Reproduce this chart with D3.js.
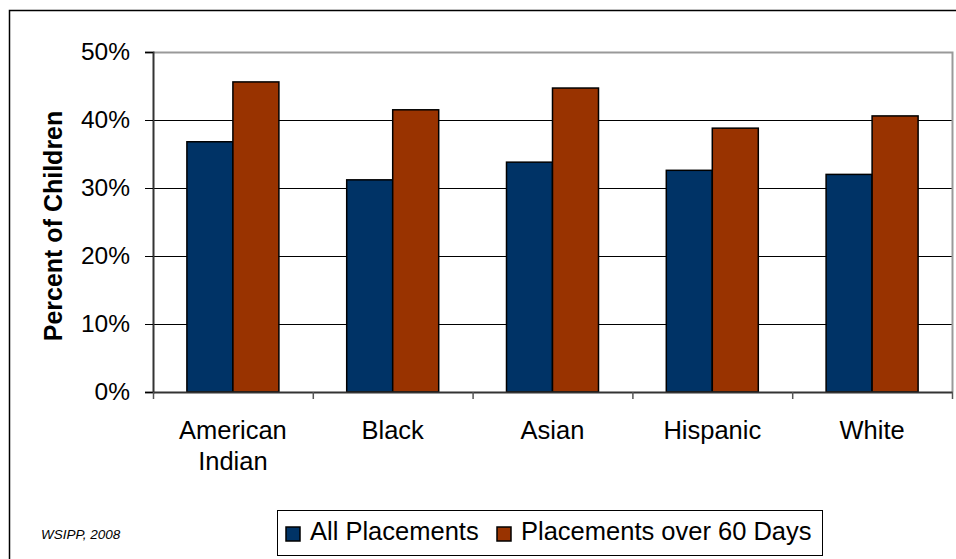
<!DOCTYPE html>
<html>
<head>
<meta charset="utf-8">
<script src="https://cdn.jsdelivr.net/npm/d3@7"></script>
<style>
  html, body { margin: 0; padding: 0; background: #fff; }
  svg { display: block; font-family: "Liberation Sans", Arial, sans-serif; }
</style>
</head>
<body>
<svg id="chart" width="956" height="559"></svg>
<script>
// Share of children, by race/ethnicity
const categories = [["American", "Indian"], ["Black"], ["Asian"], ["Hispanic"], ["White"]];
const seriesNames = ["All Placements", "Placements over 60 Days"];
const allPlacements = [0.368, 0.312, 0.338, 0.326, 0.320];
const over60Days = [0.456, 0.415, 0.447, 0.388, 0.406];
const yTicks = [0, 0.1, 0.2, 0.3, 0.4, 0.5];
const colors = ["#003366", "#993300"];

const svg = d3.select("#chart");
const plot = { left: 153, top: 52, right: 952, bottom: 392 };

// outer frame (top and left edges visible)
svg.append("path")
  .attr("d", `M9.5,559 V10.5 H956`)
  .attr("fill", "none").attr("stroke", "#000").attr("stroke-width", 1.5);

const keys = categories.map((c, i) => i);
const x = d3.scaleBand().domain(keys).range([plot.left, plot.right]).paddingInner(0).paddingOuter(0);
const groupW = 92;
const xs = d3.scaleBand().domain([0, 1]).range([0, groupW]);
const y = d3.scaleLinear().domain([0, 0.5]).range([plot.bottom, plot.top]);

// gridlines
svg.append("g").selectAll("line")
  .data(yTicks.filter(t => t > 0 && t < 0.5))
  .join("line")
  .attr("x1", plot.left).attr("x2", plot.right)
  .attr("y1", d => Math.round(y(d)) + 0.5).attr("y2", d => Math.round(y(d)) + 0.5)
  .attr("stroke", "#000").attr("stroke-width", 1);

// plot area border (top and right)
svg.append("path")
  .attr("d", `M${plot.left},${plot.top + 0.5} H${plot.right + 0.5} V${plot.bottom}`)
  .attr("fill", "none").attr("stroke", "#999").attr("stroke-width", 2);

// bars
const rows = keys.map(i => [allPlacements[i], over60Days[i]]);
const groups = svg.append("g").selectAll("g")
  .data(rows).join("g")
  .attr("transform", (d, i) => `translate(${x(i) + (x.bandwidth() - groupW) / 2},0)`);
groups.selectAll("rect")
  .data(d => d.map((v, s) => ({ v, s })))
  .join("rect")
  .attr("x", d => xs(d.s))
  .attr("width", xs.bandwidth())
  .attr("y", d => y(d.v))
  .attr("height", d => y(0) - y(d.v))
  .attr("fill", d => colors[d.s])
  .attr("stroke", "#000").attr("stroke-width", 1.5);

// y axis
const yAxis = d3.axisLeft(y).tickValues(yTicks).tickFormat(d3.format(".0%")).tickSizeOuter(0).tickSize(8).tickPadding(15);
const gy = svg.append("g").attr("transform", `translate(${plot.left},0)`).call(yAxis);
gy.select(".domain").attr("stroke", "#333").attr("stroke-width", 2);
gy.selectAll(".tick line").attr("stroke", "#000");
gy.selectAll(".tick text").attr("font-size", 24.5).attr("fill", "#000")
  .attr("font-family", "Liberation Sans, Arial, sans-serif");

// x axis: ticks sit at category boundaries
const xb = d3.scaleLinear().domain([0, categories.length]).range([plot.left, plot.right]);
const gx = svg.append("g").attr("transform", `translate(0,${plot.bottom})`)
  .call(d3.axisBottom(xb).tickValues(d3.range(categories.length + 1)).tickFormat("").tickSize(7).tickSizeOuter(0));
gx.select(".domain").attr("stroke", "#333").attr("stroke-width", 2);
gx.selectAll(".tick line").attr("stroke", "#555").attr("stroke-width", 1.5);

// category labels
svg.append("g").selectAll("text")
  .data(categories).join("text")
  .attr("x", (d, i) => x(i) + x.bandwidth() / 2)
  .attr("y", 439)
  .attr("text-anchor", "middle")
  .attr("font-size", 25.5).attr("fill", "#000")
  .selectAll("tspan").data(d => d).join("tspan")
  .attr("x", function () { return this.parentNode.getAttribute("x"); })
  .attr("dy", (d, j) => j === 0 ? 0 : 31)
  .text(d => d);

// y axis title
svg.append("text")
  .attr("transform", `translate(62,226) rotate(-90)`)
  .attr("text-anchor", "middle")
  .attr("font-size", 25).attr("font-weight", "bold")
  .text("Percent of Children");

// source note
svg.append("text")
  .attr("x", 41).attr("y", 539)
  .attr("font-size", 13.5).attr("font-style", "italic")
  .text("WSIPP, 2008");

// legend
const leg = svg.append("g");
leg.append("rect")
  .attr("x", 277.5).attr("y", 510.5).attr("width", 545).attr("height", 45)
  .attr("fill", "#fff").attr("stroke", "#000").attr("stroke-width", 1);
const legX = [286, 497];
const items = leg.selectAll("g.item").data(seriesNames).join("g")
  .attr("class", "item")
  .attr("transform", (d, i) => `translate(${legX[i]},0)`);
items.append("rect")
  .attr("x", 0).attr("y", 527).attr("width", 14).attr("height", 14)
  .attr("fill", (d, i) => colors[i]).attr("stroke", "#000").attr("stroke-width", 1.5);
items.append("text")
  .attr("x", 24).attr("y", 540)
  .attr("font-size", 25.5)
  .text(d => d);
</script>
</body>
</html>
